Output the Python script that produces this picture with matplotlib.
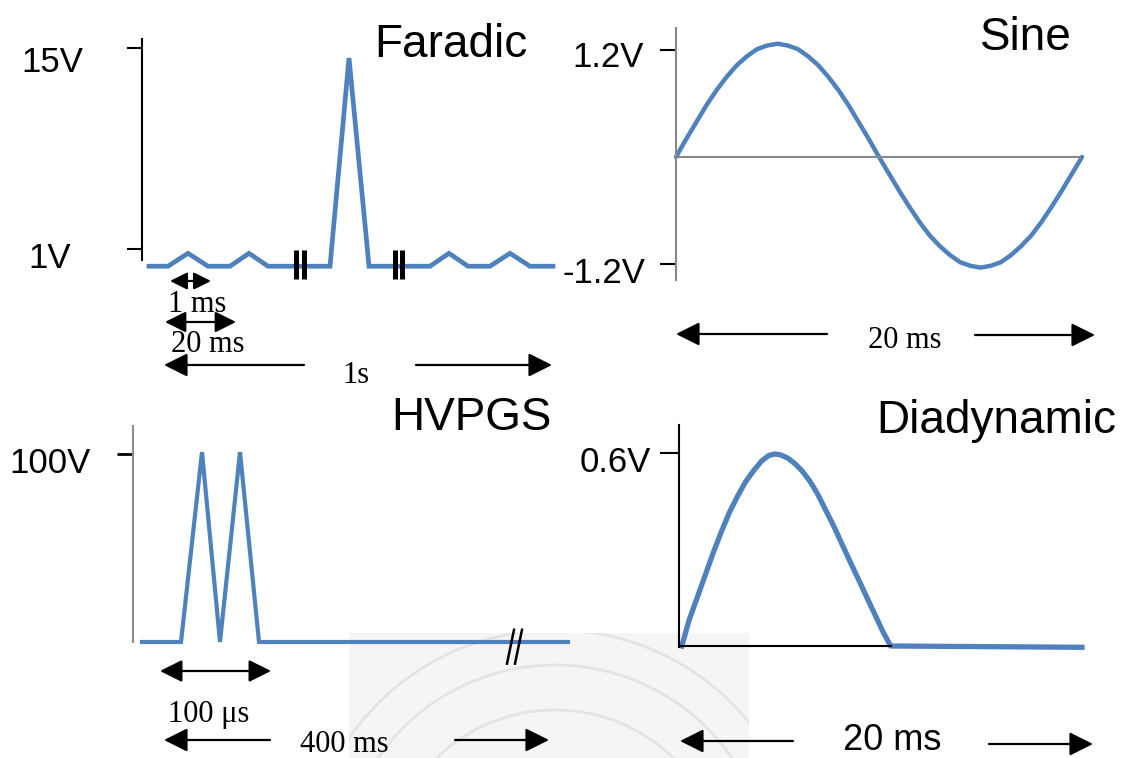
import matplotlib
matplotlib.use("Agg")
import matplotlib.pyplot as plt
from matplotlib.patches import Rectangle, Arc

W, H = 1137, 758
BLUE = "#4f81bd"
SANS = "Liberation Sans"
SERIF = "Liberation Serif"

# Faradic: schematic time units, volts
far_t = [0.35, 1.3, 2.3, 3.3, 4.4, 5.35, 6.3, 9.4, 10.35, 11.35, 14.4, 15.35, 16.3, 17.4, 18.4, 19.4, 20.55]
far_v = [-0.2, -0.2, 0.7, -0.2, -0.2, 0.7, -0.2, -0.2, 14.3, -0.2, -0.2, 0.7, -0.2, -0.2, 0.7, -0.2, -0.2]
far_breaks = [7.68, 8.08, 12.65, 13.0]

# Sine: ms, volts (read every 0.5 ms)
sine_t = [0, 0.5, 1, 1.5, 2, 2.5, 3, 3.5, 4, 4.5, 5, 5.5, 6, 6.5, 7, 7.5, 8, 8.5, 9, 9.5, 10,
          10.5, 11, 11.5, 12, 12.5, 13, 13.5, 14, 14.5, 15, 15.5, 16, 16.5, 17, 17.5, 18, 18.5, 19, 19.5, 20]
sine_v = [0, 0.20, 0.39, 0.58, 0.75, 0.90, 1.03, 1.13, 1.21, 1.25, 1.27, 1.25, 1.21, 1.13, 1.03, 0.90,
          0.75, 0.58, 0.39, 0.20, 0, -0.19, -0.38, -0.56, -0.73, -0.88, -1.0, -1.10, -1.18, -1.22, -1.24,
          -1.22, -1.18, -1.10, -1.0, -0.88, -0.73, -0.56, -0.38, -0.19, 0]

# HVPGS: schematic time units, volts
hv_t = [0.45, 2.4, 3.45, 4.35, 5.35, 6.3, 21.75]
hv_v = [0, 0, 101, 0, 101, 0, 0]

# Diadynamic: ms, volts
dd_t = [0.14, 0.5, 0.9, 1.3, 1.7, 2.1, 2.5, 2.9, 3.3, 3.7, 4.1, 4.45, 4.75, 5.05, 5.4, 5.75,
        6.1, 6.5, 6.9, 7.3, 7.7, 8.1, 8.5, 8.9, 9.3, 9.7, 10.1, 10.5, 20.0]
dd_v = [0.0, 0.08, 0.15, 0.22, 0.29, 0.355, 0.415, 0.465, 0.51, 0.545, 0.575, 0.592, 0.597,
        0.594, 0.584, 0.567, 0.545, 0.512, 0.47, 0.42, 0.37, 0.315, 0.261, 0.208, 0.154, 0.101,
        0.047, 0.0, -0.004]

fig = plt.figure(figsize=(W / 100, H / 100), dpi=100)

# pixel canvas for labels, arrows and the faint scan background
cv = fig.add_axes([0, 0, 1, 1])
cv.set_xlim(0, W)
cv.set_ylim(H, 0)
cv.axis("off")

bg = Rectangle((349, 633), 400, 125, facecolor="#f5f5f5", edgecolor="none")
cv.add_patch(bg)
for r in [250, 215, 170]:
    a = Arc((555, 880), 2 * r, 2 * r, color="#e4e4e4", lw=2)
    cv.add_patch(a)
    a.set_clip_path(bg)


def panel(x0, y0, sx, sy):
    # x0, y0: pixel of data origin, sx, sy: pixels per unit
    ax = fig.add_axes([0, 0, 1, 1])
    ax.set_xlim(-x0 / sx, (W - x0) / sx)
    ax.set_ylim(-(H - y0) / sy, y0 / sy)
    ax.patch.set_visible(False)
    for s in ["top", "right", "bottom"]:
        ax.spines[s].set_visible(False)
    ax.spines["left"].set_position(("data", 0))
    ax.set_xticks([])
    return ax


# Faradic
ax1 = panel(142, 263.36, 20, 14.36)
ax1.plot(far_t, far_v, color=BLUE, lw=3.4, solid_joinstyle="miter")
ax1.vlines(far_breaks, -1.09, 0.93, color="black", lw=3.6)
ax1.spines["left"].set_bounds(0.23, 15.62)
ax1.spines["left"].set_linewidth(1.5)
ax1.set_yticks([1, 15])
ax1.tick_params(axis="y", length=10.8, width=1.5, color="black", labelleft=False)

# Sine
ax2 = panel(676, 157, 20.3, 89.2)
ax2.plot(sine_t, sine_v, color=BLUE, lw=3.2, solid_joinstyle="round", solid_capstyle="round")
ax2.spines["left"].set_bounds(-1.38, 1.45)
ax2.spines["left"].set_color("#888888")
ax2.spines["left"].set_linewidth(1.5)
ax2.spines["bottom"].set_visible(True)
ax2.spines["bottom"].set_position(("data", 0))
ax2.spines["bottom"].set_bounds(0, 19.9)
ax2.spines["bottom"].set_color("#888888")
ax2.spines["bottom"].set_linewidth(1.5)
ax2.set_yticks([1.2, -1.2])
ax2.tick_params(axis="y", length=11.5, width=1.5, color="black", labelleft=False)

# HVPGS
ax3 = panel(133, 642, 20, 1.88)
ax3.plot(hv_t, hv_v, color=BLUE, lw=3.0, solid_joinstyle="miter")
ax3.plot([18.7, 19.05], [-11.5, 6.5], color="black", lw=1.8)
ax3.plot([19.1, 19.45], [-11.5, 6.5], color="black", lw=1.8)
ax3.spines["left"].set_bounds(0, 114.9)
ax3.spines["left"].set_color("#8c8c8c")
ax3.spines["left"].set_linewidth(1.5)
ax3.set_yticks([100])
ax3.tick_params(axis="y", length=11.5, width=2, color="black", labelleft=False)

# Diadynamic
ax4 = panel(679, 646, 20.15, 321.7)
ax4.spines["left"].set_bounds(-0.003, 0.687)
ax4.spines["left"].set_linewidth(1.5)
ax4.spines["bottom"].set_visible(True)
ax4.spines["bottom"].set_position(("data", 0))
ax4.spines["bottom"].set_bounds(0, 10.52)
ax4.spines["bottom"].set_linewidth(1.5)
ax4.plot(dd_t, dd_v, color=BLUE, lw=3.8, solid_joinstyle="round")
ax4.set_yticks([0.6])
ax4.tick_params(axis="y", length=13.7, width=1.5, color="black", labelleft=False)

# titles
for x, y, s in [(374, 57, "Faradic"), (980, 50, "Sine"), (391, 430, "HVPGS"), (876, 433, "Diadynamic")]:
    cv.text(x, y, s, fontsize=33, family=SANS, ha="left", va="baseline")

# voltage labels
for x, y, s in [(21, 72, "15V"), (28, 268, "1V"), (572, 67, "1.2V"), (562, 283, "-1.2V"),
                (9, 473, "100V"), (580, 472, "0.6V")]:
    cv.text(x, y, s, fontsize=25, family=SANS, ha="left", va="baseline")

# time labels
cv.text(168, 312, "1 ms", fontsize=22, family=SERIF, va="baseline")
cv.text(171, 352, "20 ms", fontsize=22, family=SERIF, va="baseline")
cv.text(356, 383, "1s", fontsize=22, family=SERIF, ha="center", va="baseline")
cv.text(905, 348, "20 ms", fontsize=22, family=SERIF, ha="center", va="baseline")
cv.text(168, 722, "100 \u03bcs", fontsize=22, family=SERIF, va="baseline")
cv.text(300, 752, "400 ms", fontsize=22, family=SERIF, va="baseline")
cv.text(843, 750, "20 ms", fontsize=26, family=SANS, va="baseline")


def arrow(x1, y1, x2, y2, style="-|>", ms=36):
    cv.annotate("", xy=(x2, y2), xytext=(x1, y1),
                arrowprops=dict(arrowstyle=style, mutation_scale=ms, color="black",
                                lw=1.6, shrinkA=0, shrinkB=0))


arrow(170, 281, 211, 281, "<|-|>", 26)
arrow(165, 322, 236, 322, "<|-|>", 32)
arrow(304, 365, 164, 365)
arrow(416, 365, 552, 365)
arrow(827, 334, 676, 334)
arrow(975, 335, 1095, 335)
arrow(160, 671, 271, 671, "<|-|>", 34)
arrow(270, 740, 164, 740)
arrow(455, 740, 549, 740)
arrow(793, 741, 680, 741)
arrow(989, 744, 1093, 744)

fig.savefig("out.png", dpi=100)
